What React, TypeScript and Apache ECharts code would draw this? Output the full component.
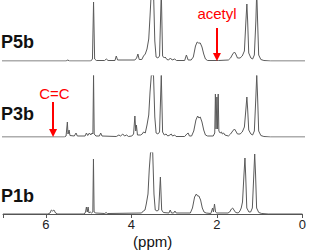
import React, { useEffect, useRef } from "react";
import * as echarts from "echarts";

// ppm axis
const ppmMin = 0;
const ppmMax = 7;
const tickStep = 2;

const spectrumNames = ["P5b", "P3b", "P1b"];

// [ppm, intensity]
const p5b: number[][] = [
  [7.0, 0], [5.52, 0], [5.48, 1], [5.44, 0],
  [4.95, 0], [4.91, 2], [4.885, 59], [4.86, 2], [4.82, 0.5],
  [4.63, 0.5], [4.59, 2], [4.55, 0.5],
  [4.39, 0.5], [4.36, 5], [4.33, 1],
  [3.93, 1], [3.89, 3], [3.86, 7], [3.83, 1.5],
  [3.77, 1.5], [3.73, 5], [3.69, 7], [3.65, 12], [3.61, 22], [3.58, 45], [3.55, 70], [3.50, 70], [3.47, 20], [3.44, 4], [3.40, 3],
  [3.36, 5], [3.32, 70], [3.29, 5], [3.25, 3], [3.23, 4], [3.19, 1.5], [3.15, 1], [3.11, 3], [3.07, 1], [3.01, 2], [2.97, 0.5],
  [2.78, 0.5], [2.74, 6], [2.70, 1],
  [2.63, 1], [2.58, 4], [2.53, 15], [2.49, 19], [2.46, 18], [2.42, 18], [2.38, 14], [2.34, 7], [2.30, 2], [2.25, 0.5],
  [2.0, 0.5], [1.77, 1], [1.72, 3], [1.67, 7], [1.63, 9], [1.60, 7], [1.56, 3], [1.50, 3], [1.45, 5], [1.40, 10],
  [1.365, 40], [1.343, 57], [1.325, 40], [1.30, 8], [1.25, 3], [1.21, 2], [1.17, 6], [1.135, 40], [1.115, 70], [1.095, 40],
  [1.07, 6], [1.02, 1.5], [0.95, 0.5], [0.8, 0], [0, 0],
];

const p3b: number[][] = [
  [7.0, 0], [5.56, 0], [5.52, 1], [5.49, 15], [5.475, 3], [5.45, 7], [5.43, 1.5], [5.33, 1], [5.29, 4], [5.26, 1],
  [5.08, 1], [5.05, 4], [5.02, 1.5], [4.98, 4], [4.95, 2], [4.92, 4], [4.90, 3], [4.885, 62], [4.87, 3], [4.83, 1],
  [4.75, 1], [4.72, 4], [4.69, 1],
  [4.36, 0.5], [4.30, 2], [4.26, 1], [4.21, 3], [4.17, 1], [4.12, 2], [4.08, 0.5],
  [4.0, 1], [3.96, 3], [3.93, 21], [3.91, 6], [3.895, 12], [3.87, 2], [3.80, 2], [3.76, 3], [3.73, 5], [3.69, 4],
  [3.65, 12], [3.61, 22], [3.58, 45], [3.55, 62], [3.50, 62], [3.47, 20], [3.44, 4], [3.40, 3],
  [3.36, 5], [3.32, 62], [3.29, 5], [3.25, 2], [3.21, 3], [3.17, 1], [3.12, 2], [3.09, 3], [3.06, 1], [3.01, 2], [2.98, 0.5],
  [2.78, 0.5], [2.73, 3], [2.70, 4], [2.67, 1],
  [2.62, 1], [2.57, 6], [2.52, 17], [2.48, 21], [2.45, 19], [2.42, 20], [2.38, 15], [2.34, 7], [2.30, 2], [2.25, 1],
  [2.12, 1], [2.085, 4], [2.07, 43], [2.055, 8], [2.035, 40], [2.02, 8], [2.005, 43], [1.99, 6], [1.96, 4], [1.93, 5],
  [1.91, 3], [1.88, 4], [1.85, 2],
  [1.77, 1], [1.72, 3], [1.67, 6], [1.63, 8], [1.60, 6], [1.56, 3], [1.50, 3], [1.45, 5], [1.40, 10],
  [1.365, 28], [1.343, 40], [1.325, 28], [1.30, 7], [1.25, 3], [1.21, 2], [1.17, 6], [1.135, 40], [1.115, 62], [1.095, 40],
  [1.07, 6], [1.02, 1.5], [0.95, 0.5], [0.8, 0], [0, 0],
];

const p1b: number[][] = [
  [7.0, 0], [5.95, 0], [5.90, 1], [5.87, 4], [5.84, 3], [5.81, 4], [5.77, 1], [5.72, 0],
  [5.10, 0], [5.07, 2], [5.05, 7], [5.03, 2], [5.01, 7], [4.99, 1], [4.96, 2], [4.93, 1], [4.90, 2], [4.885, 55], [4.87, 2], [4.83, 1],
  [4.62, 0.5], [4.59, 1.5], [4.56, 0.5],
  [3.76, 1], [3.72, 3], [3.68, 4], [3.65, 10], [3.61, 20], [3.58, 45], [3.55, 62], [3.50, 62], [3.47, 20], [3.44, 4], [3.40, 3],
  [3.36, 4], [3.32, 37], [3.29, 4], [3.25, 1.5], [3.12, 1], [3.09, 4], [3.06, 1], [3.01, 1], [2.98, 3], [2.95, 1],
  [2.62, 1], [2.57, 6], [2.52, 17], [2.48, 20], [2.45, 18], [2.42, 18], [2.38, 14], [2.34, 6], [2.30, 2], [2.25, 1],
  [2.14, 0.5], [2.10, 6], [2.08, 2], [2.055, 10], [2.03, 2], [2.0, 1],
  [1.74, 1], [1.70, 2], [1.66, 5], [1.63, 6], [1.60, 4], [1.56, 1.5], [1.50, 1], [1.46, 3], [1.43, 6], [1.40, 12],
  [1.365, 40], [1.343, 56], [1.325, 38], [1.30, 6], [1.25, 2], [1.21, 2], [1.17, 6], [1.135, 40], [1.115, 60], [1.095, 40],
  [1.07, 6], [1.02, 1.5], [0.95, 0.5], [0.8, 0], [0, 0],
];

const spectra = [p5b, p3b, p1b];

// annotations: [label, ppm, arrow start intensity, arrow end intensity, spectrum index]
const annotations: [string, number, number, number, number][] = [
  ["acetyl", 2.035, 33, 4, 0],
  ["C=C", 5.82, 35, 4, 1],
];

const FONT = 'Arial, "Liberation Sans", Helvetica, sans-serif';

export default function App() {
  const ref = useRef<HTMLDivElement>(null);

  useEffect(() => {
    document.body.style.margin = "0";
    if (!ref.current) return;
    const chart = echarts.init(ref.current, null, { renderer: "svg" });

    const gridTops = [0, 76, 153];
    const gridH = 61;

    const grids = gridTops.map((t) => ({ left: 2, right: 4, top: t, height: gridH }));
    const xAxes = gridTops.map((_, i) => ({
      type: "value",
      gridIndex: i,
      min: ppmMin,
      max: ppmMax,
      interval: tickStep,
      inverse: true,
      show: i === 2,
      name: i === 2 ? "(ppm)" : "",
      nameLocation: "middle",
      nameGap: 20,
      nameTextStyle: { fontSize: 15, color: "#111", fontFamily: FONT },
      axisLine: { show: true, onZero: false, lineStyle: { color: "#555", width: 1 } },
      axisTick: { show: true, length: 4, inside: false, lineStyle: { color: "#555" } },
      axisLabel: {
        fontSize: 13,
        color: "#222",
        fontFamily: FONT,
        margin: 4,
        formatter: (v: number) => (v === ppmMax ? "" : String(v)),
      },
      splitLine: { show: false },
    }));
    const yAxes = gridTops.map((_, i) => ({
      type: "value",
      gridIndex: i,
      min: 0,
      max: gridH,
      show: false,
    }));

    const series = spectra.map((d, i) => {
      const ann = annotations.filter((a) => a[4] === i);
      return {
        type: "line",
        name: spectrumNames[i],
        xAxisIndex: i,
        yAxisIndex: i,
        data: d,
        showSymbol: false,
        symbol: "none",
        clip: true,
        silent: true,
        lineStyle: { color: "#5a5a5a", width: 1 },
        markLine: ann.length
          ? {
              silent: true,
              symbol: ["none", "triangle"],
              symbolSize: 8,
              symbolRotate: 180,
              label: { show: false },
              lineStyle: { color: "#ff0000", width: 2, type: "solid" },
              itemStyle: { color: "#ff0000" },
              data: ann.map((a) => [{ coord: [a[1], a[2]] }, { coord: [a[1], a[3]] }]),
            }
          : undefined,
      };
    });

    const graphic: any[] = [
      ...spectrumNames.map((n, i) => ({
        type: "text",
        x: 1,
        y: [42, 113.5, 196][i],
        style: {
          text: n,
          fill: "#111",
          font: `bold 18px ${FONT}`,
          textAlign: "left",
          textVerticalAlign: "middle",
        },
      })),
      {
        type: "text",
        x: 217,
        y: 13.5,
        style: { text: annotations[0][0], fill: "#ff0000", font: `15px ${FONT}`, textAlign: "center", textVerticalAlign: "middle" },
      },
      {
        type: "text",
        x: 54.5,
        y: 93.5,
        style: { text: annotations[1][0], fill: "#ff0000", font: `15px ${FONT}`, textAlign: "center", textVerticalAlign: "middle" },
      },
    ];

    chart.setOption({
      animation: false,
      grid: grids,
      xAxis: xAxes,
      yAxis: yAxes,
      series,
      graphic,
    });

    return () => chart.dispose();
  }, []);

  return <div ref={ref} style={{ width: 309, height: 251 }} />;
}
